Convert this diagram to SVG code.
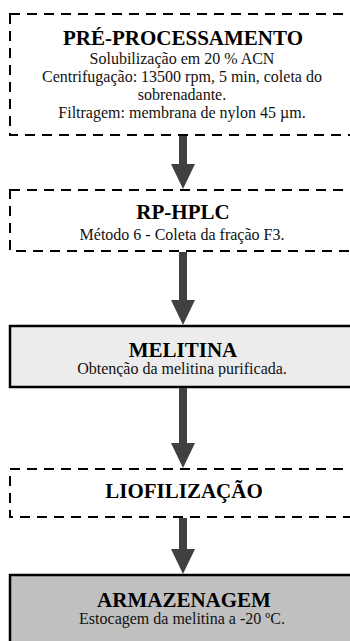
<svg xmlns="http://www.w3.org/2000/svg" width="350" height="641" viewBox="0 0 350 641">
  <style>
    .dash { fill: #ffffff; stroke: #000000; stroke-width: 2; stroke-dasharray: 10 7; }
    .solid { stroke: #000000; stroke-width: 2.5; }
    .title { font-family: 'Liberation Serif', Tinos, 'Times New Roman', Times, 'DejaVu Serif', serif; font-weight: bold; font-size: 21px; fill: #000000; text-anchor: middle; }
    .body { font-family: 'Liberation Serif', Tinos, 'Times New Roman', Times, 'DejaVu Serif', serif; font-size: 16px; fill: #111111; text-anchor: middle; }
    .arrow { fill: #404040; }
  </style>
  <defs>
    <!-- text frame of the MELITINA box cuts off the descenders of its second line -->
    <clipPath id="melitina-frame">
      <rect x="10" y="326" width="360" height="51"/>
    </clipPath>
  </defs>
  <rect width="350" height="641" fill="#ffffff"/>

  <g id="pre-processamento">
    <rect class="dash" x="10" y="14" width="360" height="121"/>
    <text class="title" x="183" y="45">PRÉ-PROCESSAMENTO</text>
    <text class="body" x="182" y="63.5">Solubilização em 20 %  ACN</text>
    <text class="body" x="182" y="82">Centrifugação: 13500 rpm, 5 min, coleta do</text>
    <text class="body" x="182" y="100">sobrenadante.</text>
    <text class="body" x="182" y="118">Filtragem: membrana de nylon 45 µm.</text>
  </g>

  <g id="rp-hplc">
    <rect class="dash" x="10" y="190" width="360" height="61"/>
    <text class="title" x="183" y="219">RP-HPLC</text>
    <text class="body" x="182" y="240">Método 6 - Coleta da fração F3.</text>
  </g>

  <g id="melitina">
    <rect class="solid" x="10" y="326" width="360" height="61" fill="#ececec"/>
    <text class="title" x="183" y="357">MELITINA</text>
    <text class="body" x="182" y="374" clip-path="url(#melitina-frame)">Obtenção da melitina purificada.</text>
  </g>

  <g id="liofilizacao">
    <rect class="dash" x="10" y="469" width="360" height="48"/>
    <text class="title" x="184" y="498">LIOFILIZAÇÃO</text>
  </g>

  <g id="armazenagem">
    <rect class="solid" x="10" y="575" width="360" height="80" fill="#c0c0c0"/>
    <text class="title" x="184" y="607">ARMAZENAGEM</text>
    <text class="body" x="182" y="624">Estocagem da melitina a -20 ºC.</text>
  </g>

  <g id="connectors">
    <path class="arrow" d="M179 136 H187 V164 H195 L183 189 L171 164 H179 Z"/>
    <path class="arrow" d="M179 252 H187 V300 H195 L183 325 L171 300 H179 Z"/>
    <path class="arrow" d="M179 388 H187 V443 H195 L183 468 L171 443 H179 Z"/>
    <path class="arrow" d="M179 518 H187 V549 H195 L183 574 L171 549 H179 Z"/>
  </g>
</svg>
